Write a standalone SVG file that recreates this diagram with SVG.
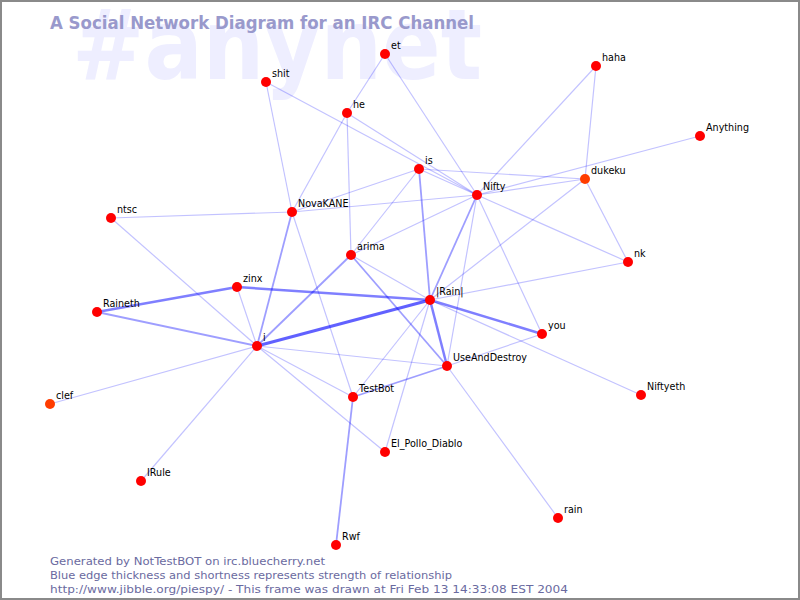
<svg xmlns="http://www.w3.org/2000/svg" width="800" height="600" viewBox="0 0 800 600">
<style>
.bg{fill:#ffffff}
.frame{fill:none;stroke:#8a8a8a;stroke-width:2}
.wm{font-family:"DejaVu Sans",sans-serif;font-weight:bold;font-size:98px;fill:#eeeeff}
.title{font-family:"DejaVu Sans",sans-serif;font-weight:bold;font-size:17px;fill:#9999cc}
.foot{font-family:"DejaVu Sans",sans-serif;font-size:11px;fill:#6a6aa0}
.e1{stroke:#0000ff;stroke-opacity:0.24;stroke-width:1.2;fill:none}
.e2{stroke:#0000ff;stroke-opacity:0.38;stroke-width:1.8;fill:none}
.e3{stroke:#0000ff;stroke-opacity:0.5;stroke-width:2.5;fill:none}
.e4{stroke:#0000ff;stroke-opacity:0.62;stroke-width:3;fill:none}
.n{fill:#ff0000}
.n2{fill:#ff3c00}
.lbl{font-family:"DejaVu Sans",sans-serif;font-size:9.6px;fill:#000000}
</style>
<rect class="bg" x="0" y="0" width="800" height="600"/>
<text class="wm" x="72" y="79" textLength="410" lengthAdjust="spacingAndGlyphs">#anynet</text>
<text class="title" x="50" y="29" textLength="424" lengthAdjust="spacingAndGlyphs">A Social Network Diagram for an IRC Channel</text>
<g id="connectors">
<line class="e1" x1="385" y1="54" x2="347" y2="113"/>
<line class="e1" x1="385" y1="54" x2="477" y2="195"/>
<line class="e1" x1="266" y1="82" x2="292" y2="212"/>
<line class="e1" x1="266" y1="82" x2="477" y2="195"/>
<line class="e1" x1="347" y1="113" x2="292" y2="212"/>
<line class="e1" x1="347" y1="113" x2="477" y2="195"/>
<line class="e1" x1="347" y1="113" x2="351" y2="255"/>
<line class="e1" x1="419" y1="169" x2="292" y2="212"/>
<line class="e1" x1="419" y1="169" x2="351" y2="255"/>
<line class="e1" x1="419" y1="169" x2="477" y2="195"/>
<line class="e1" x1="419" y1="169" x2="585" y2="179"/>
<line class="e1" x1="292" y1="212" x2="111" y2="218"/>
<line class="e1" x1="292" y1="212" x2="477" y2="195"/>
<line class="e1" x1="292" y1="212" x2="353" y2="397"/>
<line class="e1" x1="477" y1="195" x2="596" y2="66"/>
<line class="e1" x1="477" y1="195" x2="700" y2="136"/>
<line class="e1" x1="477" y1="195" x2="585" y2="179"/>
<line class="e1" x1="477" y1="195" x2="628" y2="262"/>
<line class="e1" x1="477" y1="195" x2="351" y2="255"/>
<line class="e1" x1="477" y1="195" x2="447" y2="366"/>
<line class="e1" x1="477" y1="195" x2="542" y2="334"/>
<line class="e1" x1="585" y1="179" x2="596" y2="66"/>
<line class="e1" x1="585" y1="179" x2="628" y2="262"/>
<line class="e1" x1="585" y1="179" x2="430" y2="300"/>
<line class="e1" x1="628" y1="262" x2="430" y2="300"/>
<line class="e1" x1="351" y1="255" x2="430" y2="300"/>
<line class="e1" x1="430" y1="300" x2="353" y2="397"/>
<line class="e1" x1="430" y1="300" x2="385" y2="452"/>
<line class="e1" x1="430" y1="300" x2="641" y2="395"/>
<line class="e1" x1="257" y1="346" x2="111" y2="218"/>
<line class="e1" x1="257" y1="346" x2="50" y2="404"/>
<line class="e1" x1="257" y1="346" x2="141" y2="481"/>
<line class="e1" x1="257" y1="346" x2="237" y2="287"/>
<line class="e1" x1="257" y1="346" x2="447" y2="366"/>
<line class="e1" x1="257" y1="346" x2="353" y2="397"/>
<line class="e1" x1="257" y1="346" x2="385" y2="452"/>
<line class="e1" x1="542" y1="334" x2="447" y2="366"/>
<line class="e1" x1="447" y1="366" x2="558" y2="518"/>
<line class="e2" x1="419" y1="169" x2="430" y2="300"/>
<line class="e2" x1="292" y1="212" x2="257" y2="346"/>
<line class="e2" x1="351" y1="255" x2="257" y2="346"/>
<line class="e2" x1="351" y1="255" x2="447" y2="366"/>
<line class="e2" x1="97" y1="312" x2="257" y2="346"/>
<line class="e2" x1="353" y1="397" x2="447" y2="366"/>
<line class="e2" x1="353" y1="397" x2="336" y2="545"/>
<line class="e2" x1="477" y1="195" x2="430" y2="300"/>
<line class="e3" x1="237" y1="287" x2="430" y2="300"/>
<line class="e3" x1="97" y1="312" x2="237" y2="287"/>
<line class="e3" x1="430" y1="300" x2="542" y2="334"/>
<line class="e3" x1="430" y1="300" x2="447" y2="366"/>
<line class="e4" x1="257" y1="346" x2="430" y2="300"/>
</g>
<g id="node-et"><circle class="n" cx="385" cy="54" r="5"/><text class="lbl" x="391" y="49">et</text></g>
<g id="node-shit"><circle class="n" cx="266" cy="82" r="5"/><text class="lbl" x="272" y="77">shit</text></g>
<g id="node-he"><circle class="n" cx="347" cy="113" r="5"/><text class="lbl" x="353" y="108">he</text></g>
<g id="node-haha"><circle class="n" cx="596" cy="66" r="5"/><text class="lbl" x="602" y="61">haha</text></g>
<g id="node-Anything"><circle class="n" cx="700" cy="136" r="5"/><text class="lbl" x="706" y="131">Anything</text></g>
<g id="node-is"><circle class="n" cx="419" cy="169" r="5"/><text class="lbl" x="425" y="164">is</text></g>
<g id="node-dukeku"><circle class="n2" cx="585" cy="179" r="5"/><text class="lbl" x="591" y="174">dukeku</text></g>
<g id="node-Nifty"><circle class="n" cx="477" cy="195" r="5"/><text class="lbl" x="483" y="190">Nifty</text></g>
<g id="node-NovaKANE"><circle class="n" cx="292" cy="212" r="5"/><text class="lbl" x="298" y="207">NovaKANE</text></g>
<g id="node-ntsc"><circle class="n" cx="111" cy="218" r="5"/><text class="lbl" x="117" y="213">ntsc</text></g>
<g id="node-arima"><circle class="n" cx="351" cy="255" r="5"/><text class="lbl" x="357" y="250">arima</text></g>
<g id="node-nk"><circle class="n" cx="628" cy="262" r="5"/><text class="lbl" x="634" y="257">nk</text></g>
<g id="node-zinx"><circle class="n" cx="237" cy="287" r="5"/><text class="lbl" x="243" y="282">zinx</text></g>
<g id="node-Rain"><circle class="n" cx="430" cy="300" r="5"/><text class="lbl" x="436" y="295">|Rain|</text></g>
<g id="node-Raineth"><circle class="n" cx="97" cy="312" r="5"/><text class="lbl" x="103" y="307">Raineth</text></g>
<g id="node-you"><circle class="n" cx="542" cy="334" r="5"/><text class="lbl" x="548" y="329">you</text></g>
<g id="node-i"><circle class="n" cx="257" cy="346" r="5"/><text class="lbl" x="263" y="341">i</text></g>
<g id="node-UseAndDestroy"><circle class="n" cx="447" cy="366" r="5"/><text class="lbl" x="453" y="361">UseAndDestroy</text></g>
<g id="node-TestBot"><circle class="n" cx="353" cy="397" r="5"/><text class="lbl" x="359" y="392">TestBot</text></g>
<g id="node-Niftyeth"><circle class="n" cx="641" cy="395" r="5"/><text class="lbl" x="647" y="390">Niftyeth</text></g>
<g id="node-clef"><circle class="n2" cx="50" cy="404" r="5"/><text class="lbl" x="56" y="399">clef</text></g>
<g id="node-El_Pollo_Diablo"><circle class="n" cx="385" cy="452" r="5"/><text class="lbl" x="391" y="447">El_Pollo_Diablo</text></g>
<g id="node-IRule"><circle class="n" cx="141" cy="481" r="5"/><text class="lbl" x="147" y="476">IRule</text></g>
<g id="node-rain"><circle class="n" cx="558" cy="518" r="5"/><text class="lbl" x="564" y="513">rain</text></g>
<g id="node-Rwf"><circle class="n" cx="336" cy="545" r="5"/><text class="lbl" x="342" y="540">Rwf</text></g>
<text class="foot" x="50" y="565" textLength="275" lengthAdjust="spacingAndGlyphs">Generated by NotTestBOT on irc.bluecherry.net</text>
<text class="foot" x="50" y="579" textLength="402" lengthAdjust="spacingAndGlyphs">Blue edge thickness and shortness represents strength of relationship</text>
<text class="foot" x="50" y="593" textLength="518" lengthAdjust="spacingAndGlyphs">http://www.jibble.org/piespy/ - This frame was drawn at Fri Feb 13 14:33:08 EST 2004</text>
<rect class="frame" x="1" y="1" width="798" height="598"/>
</svg>
